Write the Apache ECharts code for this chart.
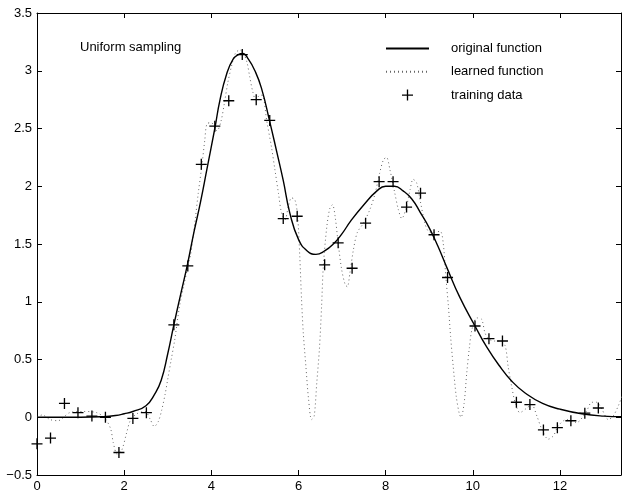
<!DOCTYPE html>
<html>
<head>
<meta charset="utf-8">
<title>Uniform sampling</title>
<style>
  html, body { margin: 0; padding: 0; background: #fff; }
  #chart { width: 624px; height: 493px; }
</style>
<script src="https://cdn.jsdelivr.net/npm/echarts@6/dist/echarts.min.js"></script>
</head>
<body>
<div id="chart"></div>
<script>
// original function
var origX = [0, 0.5, 1.0, 1.5, 1.8, 2.0, 2.2, 2.5, 2.7, 2.85, 3.0, 3.14, 3.3, 3.45, 3.6, 3.75, 3.9, 4.08, 4.2, 4.35, 4.5, 4.62, 4.72, 4.85, 5.0, 5.15, 5.34, 5.5, 5.65, 5.8, 6.0, 6.2, 6.4, 6.6, 6.8, 7.0, 7.2, 7.5, 7.8, 8.0, 8.2, 8.4, 8.6, 8.8, 9.0, 9.2, 9.4, 9.7, 10.05, 10.3, 10.6, 10.9, 11.2, 11.6, 12.0, 12.5, 13.0, 13.4];
var origY = [0, 0, 0, 0.005, 0.015, 0.03, 0.05, 0.1, 0.2, 0.32, 0.55, 0.8, 1.07, 1.32, 1.6, 1.86, 2.15, 2.5, 2.75, 2.97, 3.1, 3.14, 3.15, 3.1, 3.0, 2.85, 2.56, 2.3, 2.05, 1.77, 1.54, 1.44, 1.41, 1.44, 1.5, 1.59, 1.7, 1.84, 1.96, 2.0, 2.0, 1.96, 1.89, 1.77, 1.64, 1.48, 1.3, 1.04, 0.79, 0.62, 0.45, 0.31, 0.21, 0.12, 0.07, 0.03, 0.01, 0.005];

// learned function
var learnX = [0, 0.12, 0.3, 0.48, 0.75, 1.05, 1.37, 1.56, 1.69, 1.75, 1.84, 1.94, 2.06, 2.14, 2.29, 2.48, 2.6, 2.69, 2.78, 2.86, 2.94, 3.0, 3.08, 3.16, 3.27, 3.38, 3.46, 3.53, 3.63, 3.7, 3.78, 3.85, 3.9, 4.0, 4.13, 4.22, 4.3, 4.38, 4.47, 4.55, 4.65, 4.74, 4.82, 4.88, 4.95, 5.02, 5.12, 5.19, 5.27, 5.38, 5.46, 5.54, 5.61, 5.69, 5.77, 5.84, 5.92, 5.98, 6.03, 6.07, 6.11, 6.17, 6.23, 6.3, 6.36, 6.42, 6.48, 6.53, 6.57, 6.65, 6.72, 6.78, 6.84, 6.91, 6.99, 7.07, 7.12, 7.18, 7.26, 7.35, 7.49, 7.64, 7.76, 7.86, 7.95, 8.02, 8.1, 8.21, 8.29, 8.37, 8.47, 8.56, 8.63, 8.71, 8.79, 8.9, 8.98, 9.09, 9.25, 9.32, 9.38, 9.44, 9.49, 9.55, 9.62, 9.69, 9.73, 9.8, 9.86, 9.92, 9.98, 10.09, 10.2, 10.28, 10.36, 10.5, 10.62, 10.74, 10.81, 10.89, 10.97, 11.08, 11.24, 11.35, 11.47, 11.58, 11.73, 11.85, 11.96, 12.15, 12.38, 12.61, 12.73, 12.84, 12.96, 13.11, 13.22, 13.34, 13.42];
var learnY = [0, 0.02, -0.02, -0.03, 0.04, 0.05, 0.04, -0.01, -0.1, -0.22, -0.32, -0.29, -0.13, -0.03, 0.03, 0.05, -0.02, -0.08, -0.04, 0.06, 0.2, 0.33, 0.5, 0.67, 0.96, 1.16, 1.3, 1.42, 1.71, 1.94, 2.17, 2.4, 2.54, 2.55, 2.48, 2.56, 2.72, 2.9, 3.05, 3.15, 3.18, 3.15, 3.07, 2.95, 2.82, 2.75, 2.79, 2.78, 2.57, 2.34, 2.14, 1.94, 1.77, 1.71, 1.83, 1.9, 1.88, 1.74, 1.39, 1.02, 0.73, 0.44, 0.16, -0.02, 0.01, 0.3, 0.59, 0.96, 1.31, 1.65, 1.81, 1.84, 1.74, 1.51, 1.28, 1.15, 1.13, 1.25, 1.45, 1.6, 1.68, 1.8, 1.94, 2.11, 2.23, 2.25, 2.14, 1.94, 1.8, 1.72, 1.81, 1.97, 2.06, 2.03, 1.88, 1.68, 1.61, 1.6, 1.61, 1.51, 1.22, 0.96, 0.7, 0.44, 0.18, 0.03, 0.0, 0.12, 0.38, 0.6, 0.76, 0.86, 0.85, 0.73, 0.68, 0.66, 0.66, 0.62, 0.44, 0.27, 0.13, 0.04, 0.08, 0.11, 0.01, -0.1, -0.19, -0.16, -0.075, -0.02, -0.045, 0.055, 0.13, 0.13, 0.07, -0.02, 0.01, 0.1, 0.18];

// training data (uniform sampling)
var trainX = [0, 0.31, 0.63, 0.94, 1.26, 1.57, 1.88, 2.2, 2.51, 3.14, 3.46, 3.77, 4.08, 4.4, 4.71, 5.03, 5.34, 5.65, 5.97, 6.6, 6.91, 7.23, 7.54, 7.85, 8.17, 8.48, 8.8, 9.11, 9.42, 10.05, 10.37, 10.68, 11.0, 11.31, 11.62, 11.94, 12.25, 12.57, 12.88];
var trainY = [-0.23, -0.18, 0.12, 0.04, 0.01, 0.0, -0.305, -0.01, 0.04, 0.80, 1.31, 2.19, 2.52, 2.74, 3.14, 2.75, 2.57, 1.72, 1.74, 1.32, 1.51, 1.29, 1.68, 2.04, 2.04, 1.82, 1.94, 1.58, 1.21, 0.79, 0.68, 0.66, 0.13, 0.11, -0.11, -0.09, -0.03, 0.035, 0.08];

function pairs(xs, ys) {
  var out = [];
  for (var i = 0; i < xs.length; i++) out.push([xs[i], ys[i]]);
  return out;
}

var font = 'Liberation Sans, Arial, Helvetica, sans-serif';
var plus = 'path://M4.4,0H5.6V10H4.4ZM0,4.4H10V5.6H0Z';

var myChart = echarts.init(document.getElementById('chart'));

var axisCommon = {
  type: 'value',
  axisLine: { show: true, onZero: false, lineStyle: { color: '#000', width: 1 } },
  axisTick: { show: true, inside: true, length: 5, lineStyle: { color: '#000' } },
  splitLine: { show: false }
};

var option = {
  animation: false,
  backgroundColor: '#fff',
  textStyle: { fontFamily: font },
  title: {
    text: 'Uniform sampling',
    left: 75,
    top: 36,
    textStyle: { fontSize: 13, fontWeight: 'normal', color: '#000', fontFamily: font }
  },
  legend: {
    orient: 'vertical',
    left: 385,
    top: 42,
    padding: 0,
    itemWidth: 43,
    itemHeight: 11,
    itemGap: 10.3,
    textStyle: { fontSize: 13, color: '#000', fontFamily: font, padding: [0, 0, 0, 17] },
    data: [
      { name: 'original function', itemStyle: { opacity: 0 } },
      { name: 'learned function', itemStyle: { opacity: 0 } },
      { name: 'training data' }
    ]
  },
  grid: { left: 37, right: 3, top: 13, bottom: 17 },
  xAxis: [
    Object.assign({}, axisCommon, {
      position: 'bottom',
      min: 0, max: 13.4, interval: 2,
      axisLabel: { color: '#000', fontSize: 13, margin: 5, fontFamily: font, showMaxLabel: false }
    }),
    Object.assign({}, axisCommon, {
      position: 'top',
      min: 0, max: 13.4, interval: 2,
      axisLabel: { show: false }
    })
  ],
  yAxis: [
    Object.assign({}, axisCommon, {
      position: 'left',
      min: -0.5, max: 3.5, interval: 0.5,
      axisLabel: {
        color: '#000', fontSize: 13, margin: 5, fontFamily: font,
        formatter: function (v) { return String(v).replace('-', '\u2212'); }
      }
    }),
    Object.assign({}, axisCommon, {
      position: 'right',
      min: -0.5, max: 3.5, interval: 0.5,
      axisLabel: { show: false }
    })
  ],
  series: [
    {
      name: 'original function',
      type: 'line',
      data: pairs(origX, origY),
      smooth: true,
      symbol: 'none',
      lineStyle: { color: '#000', width: 1.4 },
      itemStyle: { color: '#000' },
      z: 3
    },
    {
      name: 'learned function',
      type: 'line',
      data: pairs(learnX, learnY),
      smooth: 0.3,
      symbol: 'none',
      lineStyle: { color: '#666', width: 1, type: [1, 3] },
      itemStyle: { color: '#666' },
      z: 2
    },
    {
      name: 'training data',
      type: 'scatter',
      data: pairs(trainX, trainY),
      symbol: plus,
      symbolSize: 11,
      clip: false,
      itemStyle: { color: '#000', opacity: 1 },
      z: 4
    }
  ]
};

myChart.setOption(option);
</script>
</body>
</html>
